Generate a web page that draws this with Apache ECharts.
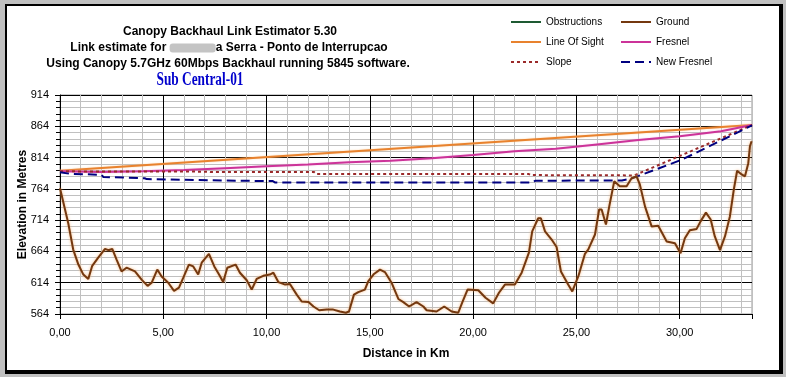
<!DOCTYPE html>
<html>
<head>
<meta charset="utf-8">
<script src="https://cdn.jsdelivr.net/npm/echarts@6/dist/echarts.min.js"></script>
<style>
  html, body { margin: 0; padding: 0; background: #c0c0c0; }
  #chart { width: 786px; height: 377px; }
</style>
</head>
<body>
<div id="chart"></div>
<script>
/* ground profile, distance (km) / elevation (m) */
var groundKm = [0.00,0.40,0.64,0.89,1.13,1.37,1.56,1.85,2.18,2.34,2.53,2.74,2.98,3.22,3.63,3.95,4.24,4.44,4.71,4.92,
	5.24,5.52,5.76,5.97,6.24,6.45,6.69,6.86,7.21,7.47,7.70,7.90,8.10,8.50,8.71,9.04,9.28,9.52,9.84,10.16,
	10.33,10.57,10.90,11.13,11.46,11.70,12.03,12.27,12.55,12.91,13.23,13.55,13.84,13.99,14.23,14.44,14.76,14.92,15.20,15.49,
	15.73,16.05,16.38,16.62,16.90,17.26,17.59,17.75,18.23,18.60,18.96,19.28,19.47,19.73,20.25,20.60,20.97,21.25,21.54,22.02,
	22.35,22.70,22.86,23.15,23.28,23.48,23.80,24.04,24.25,24.60,24.80,25.09,25.41,25.57,25.90,26.10,26.22,26.43,26.59,26.83,
	27.10,27.43,27.67,27.91,28.07,28.32,28.64,28.96,29.37,29.77,30.04,30.25,30.49,30.82,31.01,31.27,31.50,31.70,31.95,32.19,
	32.43,32.62,32.78,33.00,33.16,33.32,33.40,33.48];
var groundM = [765,709,667,643,627,620,641,654,668,666,668,651,632,638,632,619,609,614,635,624,
	614,601,606,622,643,640,627,646,660,640,627,615,638,643,630,618,603,620,625,627,
	630,615,611,612,595,584,583,576,570,571,571,568,566,568,595,599,603,616,628,635,
	631,614,588,583,576,583,576,570,568,576,568,566,582,603,602,590,581,598,611,611,
	630,662,696,717,717,696,683,671,632,611,600,624,660,667,691,731,731,707,736,776,
	768,768,781,784,771,736,704,705,680,677,661,685,698,700,712,726,715,688,666,688,
	720,763,793,787,784,805,832,840];

var losKm = [0, 33.5];
var losM = [793, 866];

var fresnelKm = [0,2,4,6,8,10,12,14,16,18,20,22,24,26,28,30,32,33.5];
var fresnelM = [792,791,792,794,797,800,803,806.5,809,813,818,824,828,835,842,848,856,866];

var slopeKm = [0,7.2,7.3,12.3,12.4,22.7,22.8,27.8,33.5];
var slopeM = [792,791.5,790.8,790.8,787.6,787.6,786,785.5,866];

var newFresnelKm = [0,0.5,2.0,2.1,4.1,4.2,8.5,10.3,10.4,22.9,23.0,27.2,27.7,30.1,33.5];
var newFresnelM = [790.5,788,786.5,783,781,779.6,777,776.5,774.3,774.3,777,777.4,781,810.5,865.5];

var obstructionsKm = [];
var obstructionsM = [];

var titleLines = ['Canopy Backhaul Link Estimator 5.30',
	'Link estimate for ',
	'a Serra - Ponto de Interrupcao',
	'Using Canopy 5.7GHz 60Mbps Backhaul running 5845 software.'];
var subTitle = 'Sub Central-01';

function pairs(xs, ys){
	var out = [];
	for (var i = 0; i < xs.length; i++) out.push([xs[i], ys[i]]);
	return out;
}

var FONT = 'Liberation Sans';
var chart = echarts.init(document.getElementById('chart'), null, {renderer: 'canvas'});

var legendText = {fontFamily: FONT, fontSize: 10, color: '#000'};

var option = {
	backgroundColor: '#c0c0c0',
	animation: false,
	graphic: [
		{type: 'rect', z: -20, silent: true, shape: {x: 5, y: 4, width: 778, height: 370}, style: {fill: '#000'}},
		{type: 'rect', z: -19, silent: true, shape: {x: 7, y: 6, width: 772, height: 364}, style: {fill: '#fff'}},
		{type: 'text', z: 10, x: 230, y: 32, style: {text: titleLines[0], font: 'bold 12px ' + FONT, fill: '#000', align: 'center', verticalAlign: 'middle'}},
		{type: 'text', z: 10, x: 229, y: 48, style: {
			text: '{a|' + titleLines[1] + '}{b|}{a|' + titleLines[2] + '}',
			align: 'center', verticalAlign: 'middle',
			rich: {
				a: {font: 'bold 12px ' + FONT, fill: '#000'},
				b: {width: 46, height: 9, backgroundColor: '#c4c4c4', borderRadius: 3}
			}
		}},
		{type: 'text', z: 10, x: 228, y: 64, style: {text: titleLines[3], font: 'bold 12px ' + FONT, fill: '#000', align: 'center', verticalAlign: 'middle'}},
		{type: 'text', z: 10, x: 200, y: 80, scaleX: 0.74,
			style: {text: subTitle, font: 'bold 18px "Liberation Serif"', fill: '#0000cc', align: 'center', verticalAlign: 'middle'}}
	],
	legend: [
		{orient: 'vertical', left: 510, top: 17, padding: 0, itemWidth: 30, itemHeight: 12, itemGap: 10,
			itemStyle: {opacity: 0},
			data: ['Obstructions', 'Line Of Sight', 'Slope'], textStyle: legendText},
		{orient: 'vertical', left: 620, top: 17, padding: 0, itemWidth: 30, itemHeight: 12, itemGap: 10,
			itemStyle: {opacity: 0},
			data: ['Ground', 'Fresnel', 'New Fresnel'], textStyle: legendText}
	],
	grid: {left: 60, right: 34, top: 95, bottom: 63, show: true, backgroundColor: '#fff', borderColor: '#999', borderWidth: 1},
	xAxis: [
		{
			type: 'value', min: 0, max: 33.5, interval: 5, position: 'bottom',
			name: 'Distance in Km', nameLocation: 'middle', nameGap: 34, nameMoveOverlap: false,
			nameTextStyle: {fontFamily: FONT, fontSize: 12, fontWeight: 'bold', color: '#000'},
			axisLine: {lineStyle: {color: '#000', width: 1}},
			axisTick: {show: true, length: 5, lineStyle: {color: '#000'}},
			axisLabel: {margin: 13, fontFamily: FONT, fontSize: 11, color: '#000',
				formatter: function(v){ return v % 5 === 0 ? v.toFixed(2).replace('.', ',') : ''; }},
			splitLine: {show: true, lineStyle: {color: '#000', width: 1}}
		},
		{
			/* 1 km gridlines only */
			type: 'value', min: 0, max: 33.5, interval: 1, position: 'top',
			axisLine: {show: false}, axisTick: {show: false}, axisLabel: {show: false},
			splitLine: {show: true, lineStyle: {width: 1, color: ['rgba(0,0,0,0)', '#c0c0c0', '#c0c0c0', '#c0c0c0', '#c0c0c0']}}
		}
	],
	yAxis: {
		type: 'value', min: 564, max: 914, interval: 50,
		name: 'Elevation in Metres', nameLocation: 'middle', nameGap: 31, nameMoveOverlap: false,
		nameTextStyle: {fontFamily: FONT, fontSize: 12, fontWeight: 'bold', color: '#000'},
		axisLine: {show: true, lineStyle: {color: '#000', width: 1}},
		axisTick: {show: true, length: 5, lineStyle: {color: '#000'}},
		minorTick: {show: true, splitNumber: 5, length: 4, lineStyle: {color: '#000'}},
		axisLabel: {margin: 11, fontFamily: FONT, fontSize: 11, color: '#000'},
		splitLine: {show: true, lineStyle: {color: '#000', width: 1}},
		minorSplitLine: {show: true, lineStyle: {color: '#c0c0c0', width: 1}}
	},
	series: [
		{name: 'Obstructions', type: 'line', symbol: 'none', data: pairs(obstructionsKm, obstructionsM),
			lineStyle: {color: '#1e5a32', width: 2}, itemStyle: {color: '#1e5a32'}},
		{name: 'Line Of Sight', type: 'line', symbol: 'none', data: pairs(losKm, losM),
			lineStyle: {color: '#e8822e', width: 2, shadowColor: 'rgba(250,190,120,0.6)', shadowBlur: 2}, itemStyle: {color: '#e8822e'}},
		{name: 'Fresnel', type: 'line', symbol: 'none', data: pairs(fresnelKm, fresnelM),
			lineStyle: {color: '#cc3399', width: 2, shadowColor: 'rgba(240,170,220,0.6)', shadowBlur: 2}, itemStyle: {color: '#cc3399'}},
		{name: 'Slope', type: 'line', symbol: 'none', data: pairs(slopeKm, slopeM),
			lineStyle: {color: '#9b2a2a', width: 2, type: [3, 3]}, itemStyle: {color: '#9b2a2a'}},
		{name: 'New Fresnel', type: 'line', symbol: 'none', data: pairs(newFresnelKm, newFresnelM),
			lineStyle: {color: '#000080', width: 2, type: [9, 5]}, itemStyle: {color: '#000080'}},
		{name: 'Ground', type: 'line', symbol: 'none', data: pairs(groundKm, groundM),
			lineStyle: {color: '#74380f', width: 2, shadowColor: 'rgba(245,170,100,0.8)', shadowBlur: 3}, itemStyle: {color: '#74380f'}}
	]
};
chart.setOption(option);
</script>
</body>
</html>
